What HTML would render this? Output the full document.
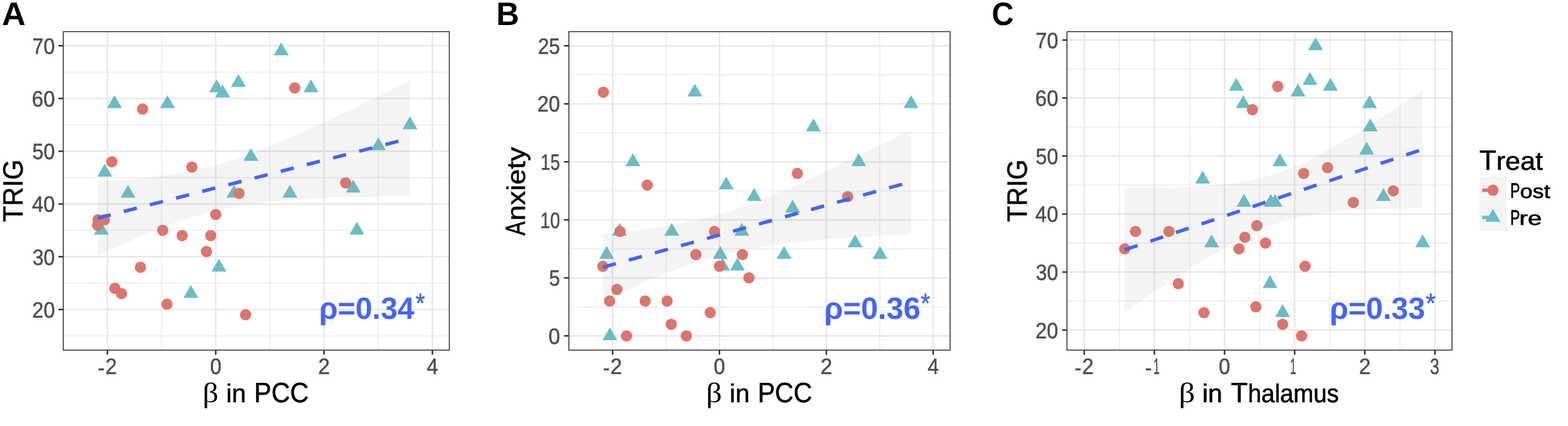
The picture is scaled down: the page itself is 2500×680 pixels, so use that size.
<!DOCTYPE html>
<html lang="en"><head><meta charset="utf-8"><title>Figure</title>
<style>html,body{margin:0;padding:0;background:#fff;overflow:hidden}svg{display:block}text{white-space:pre;text-rendering:geometricPrecision}</style></head><body>
<svg width="2500" height="680" viewBox="0 0 2500 680">
<rect width="2500" height="680" fill="#ffffff"/>
<g id="panelA">
<clipPath id="clipA"><rect x="100.85" y="50.5" width="615.55" height="508.30"/></clipPath>
<g clip-path="url(#clipA)">
<line x1="100.85" x2="716.4" y1="536.10" y2="536.10" stroke="#e9e9e9" stroke-width="1.3"/>
<line x1="100.85" x2="716.4" y1="451.90" y2="451.90" stroke="#e9e9e9" stroke-width="1.3"/>
<line x1="100.85" x2="716.4" y1="367.70" y2="367.70" stroke="#e9e9e9" stroke-width="1.3"/>
<line x1="100.85" x2="716.4" y1="283.50" y2="283.50" stroke="#e9e9e9" stroke-width="1.3"/>
<line x1="100.85" x2="716.4" y1="199.30" y2="199.30" stroke="#e9e9e9" stroke-width="1.3"/>
<line x1="100.85" x2="716.4" y1="115.10" y2="115.10" stroke="#e9e9e9" stroke-width="1.3"/>
<line y1="50.5" y2="558.8" x1="257.65" x2="257.65" stroke="#e9e9e9" stroke-width="1.3"/>
<line y1="50.5" y2="558.8" x1="430.35" x2="430.35" stroke="#e9e9e9" stroke-width="1.3"/>
<line y1="50.5" y2="558.8" x1="603.05" x2="603.05" stroke="#e9e9e9" stroke-width="1.3"/>
<line x1="100.85" x2="716.4" y1="494.00" y2="494.00" stroke="#e9e9e9" stroke-width="2.6"/>
<line x1="100.85" x2="716.4" y1="409.80" y2="409.80" stroke="#e9e9e9" stroke-width="2.6"/>
<line x1="100.85" x2="716.4" y1="325.60" y2="325.60" stroke="#e9e9e9" stroke-width="2.6"/>
<line x1="100.85" x2="716.4" y1="241.40" y2="241.40" stroke="#e9e9e9" stroke-width="2.6"/>
<line x1="100.85" x2="716.4" y1="157.20" y2="157.20" stroke="#e9e9e9" stroke-width="2.6"/>
<line x1="100.85" x2="716.4" y1="73.00" y2="73.00" stroke="#e9e9e9" stroke-width="2.6"/>
<line y1="50.5" y2="558.8" x1="171.30" x2="171.30" stroke="#e9e9e9" stroke-width="2.6"/>
<line y1="50.5" y2="558.8" x1="344.00" x2="344.00" stroke="#e9e9e9" stroke-width="2.6"/>
<line y1="50.5" y2="558.8" x1="516.70" x2="516.70" stroke="#e9e9e9" stroke-width="2.6"/>
<line y1="50.5" y2="558.8" x1="689.40" x2="689.40" stroke="#e9e9e9" stroke-width="2.6"/>
<polygon points="448.40,67.74 460.25,88.26 436.55,88.26" fill="#6bbdc1"/>
<polygon points="182.53,151.94 194.38,172.46 170.68,172.46" fill="#6bbdc1"/>
<polygon points="266.98,151.94 278.83,172.46 255.13,172.46" fill="#6bbdc1"/>
<polygon points="345.30,126.68 357.15,147.20 333.45,147.20" fill="#6bbdc1"/>
<polygon points="354.97,135.10 366.82,155.62 343.12,155.62" fill="#6bbdc1"/>
<polygon points="380.09,118.26 391.94,138.78 368.24,138.78" fill="#6bbdc1"/>
<polygon points="495.80,126.68 507.65,147.20 483.95,147.20" fill="#6bbdc1"/>
<polygon points="653.65,185.62 665.50,206.14 641.80,206.14" fill="#6bbdc1"/>
<polygon points="603.40,219.30 615.25,239.82 591.55,239.82" fill="#6bbdc1"/>
<polygon points="399.95,236.14 411.80,256.66 388.10,256.66" fill="#6bbdc1"/>
<polygon points="166.98,261.40 178.83,281.92 155.13,281.92" fill="#6bbdc1"/>
<polygon points="204.11,295.08 215.96,315.60 192.26,315.60" fill="#6bbdc1"/>
<polygon points="373.10,295.08 384.95,315.60 361.25,315.60" fill="#6bbdc1"/>
<polygon points="462.21,295.08 474.06,315.60 450.36,315.60" fill="#6bbdc1"/>
<polygon points="563.16,286.66 575.01,307.18 551.31,307.18" fill="#6bbdc1"/>
<polygon points="569.03,354.02 580.88,374.54 557.18,374.54" fill="#6bbdc1"/>
<polygon points="161.72,354.02 173.57,374.54 149.87,374.54" fill="#6bbdc1"/>
<polygon points="349.09,412.96 360.94,433.48 337.24,433.48" fill="#6bbdc1"/>
<polygon points="304.28,455.06 316.13,475.58 292.43,475.58" fill="#6bbdc1"/>
<circle cx="156.36" cy="350.86" r="9.0" fill="#dc756e"/>
<circle cx="166.46" cy="350.86" r="9.0" fill="#dc756e"/>
<circle cx="155.58" cy="359.28" r="9.0" fill="#dc756e"/>
<circle cx="178.29" cy="258.24" r="9.0" fill="#dc756e"/>
<circle cx="227.34" cy="174.04" r="9.0" fill="#dc756e"/>
<circle cx="469.90" cy="140.36" r="9.0" fill="#dc756e"/>
<circle cx="305.92" cy="266.66" r="9.0" fill="#dc756e"/>
<circle cx="381.13" cy="308.76" r="9.0" fill="#dc756e"/>
<circle cx="551.07" cy="291.92" r="9.0" fill="#dc756e"/>
<circle cx="344.00" cy="342.44" r="9.0" fill="#dc756e"/>
<circle cx="259.38" cy="367.70" r="9.0" fill="#dc756e"/>
<circle cx="290.46" cy="376.12" r="9.0" fill="#dc756e"/>
<circle cx="336.06" cy="376.12" r="9.0" fill="#dc756e"/>
<circle cx="329.15" cy="401.38" r="9.0" fill="#dc756e"/>
<circle cx="223.97" cy="426.64" r="9.0" fill="#dc756e"/>
<circle cx="183.22" cy="460.32" r="9.0" fill="#dc756e"/>
<circle cx="193.75" cy="468.74" r="9.0" fill="#dc756e"/>
<circle cx="266.11" cy="485.58" r="9.0" fill="#dc756e"/>
<circle cx="391.58" cy="502.42" r="9.0" fill="#dc756e"/>
<polygon points="155.6,288.8 161.9,288.5 168.2,288.2 174.5,287.8 180.8,287.5 187.1,287.1 193.4,286.7 199.7,286.2 206.0,285.8 212.3,285.3 218.6,284.7 224.9,284.2 231.2,283.6 237.5,283.0 243.8,282.3 250.2,281.6 256.5,280.8 262.8,280.0 269.1,279.1 275.4,278.2 281.7,277.2 288.0,276.1 294.3,275.0 300.6,273.8 306.9,272.6 313.2,271.2 319.5,269.8 325.8,268.3 332.1,266.8 338.4,265.2 344.7,263.5 351.0,261.7 357.3,259.8 363.6,257.9 369.9,255.9 376.2,253.8 382.6,251.7 388.9,249.5 395.2,247.2 401.5,244.9 407.8,242.5 414.1,240.1 420.4,237.6 426.7,235.1 433.0,232.5 439.3,229.9 445.6,227.2 451.9,224.6 458.2,221.8 464.5,219.1 470.8,216.3 477.1,213.5 483.4,210.7 489.7,207.8 496.0,205.0 502.3,202.1 508.6,199.1 514.9,196.2 521.3,193.3 527.6,190.3 533.9,187.3 540.2,184.3 546.5,181.3 552.8,178.3 559.1,175.2 565.4,172.2 571.7,169.2 578.0,166.1 584.3,163.0 590.6,159.9 596.9,156.8 603.2,153.8 609.5,150.6 615.8,147.5 622.1,144.4 628.4,141.3 634.7,138.2 641.0,135.0 647.3,131.9 653.7,128.8 653.7,312.6 647.3,312.7 641.0,312.8 634.7,312.9 628.4,313.0 622.1,313.1 615.8,313.2 609.5,313.3 603.2,313.4 596.9,313.6 590.6,313.7 584.3,313.9 578.0,314.0 571.7,314.2 565.4,314.4 559.1,314.5 552.8,314.7 546.5,315.0 540.2,315.2 533.9,315.4 527.6,315.7 521.3,315.9 514.9,316.2 508.6,316.5 502.3,316.8 496.0,317.2 489.7,317.5 483.4,317.9 477.1,318.3 470.8,318.7 464.5,319.2 458.2,319.6 451.9,320.2 445.6,320.7 439.3,321.3 433.0,321.9 426.7,322.6 420.4,323.3 414.1,324.0 407.8,324.8 401.5,325.7 395.2,326.6 388.9,327.6 382.6,328.6 376.2,329.7 369.9,330.8 363.6,332.1 357.3,333.4 351.0,334.7 344.7,336.2 338.4,337.7 332.1,339.3 325.8,341.0 319.5,342.8 313.2,344.6 306.9,346.5 300.6,348.5 294.3,350.5 288.0,352.6 281.7,354.8 275.4,357.0 269.1,359.3 262.8,361.7 256.5,364.1 250.2,366.6 243.8,369.1 237.5,371.6 231.2,374.2 224.9,376.9 218.6,379.5 212.3,382.2 206.0,385.0 199.7,387.7 193.4,390.5 187.1,393.3 180.8,396.2 174.5,399.1 168.2,401.9 161.9,404.9 155.6,407.8" fill="#999999" fill-opacity="0.105"/>
<line x1="155.58" y1="348.29" x2="653.65" y2="220.67" stroke="#4465f5" stroke-width="5.5" stroke-dasharray="21.53 21.53"/>
</g>
<rect x="100.85" y="50.5" width="615.55" height="508.30" fill="none" stroke="#262626" stroke-width="1.45"/>
<line x1="93.22" x2="100.42" y1="494.00" y2="494.00" stroke="#262626" stroke-width="2.3"/>
<line x1="93.22" x2="100.42" y1="409.80" y2="409.80" stroke="#262626" stroke-width="2.3"/>
<line x1="93.22" x2="100.42" y1="325.60" y2="325.60" stroke="#262626" stroke-width="2.3"/>
<line x1="93.22" x2="100.42" y1="241.40" y2="241.40" stroke="#262626" stroke-width="2.3"/>
<line x1="93.22" x2="100.42" y1="157.20" y2="157.20" stroke="#262626" stroke-width="2.3"/>
<line x1="93.22" x2="100.42" y1="73.00" y2="73.00" stroke="#262626" stroke-width="2.3"/>
<line y1="559.23" y2="566.12" x1="171.30" x2="171.30" stroke="#262626" stroke-width="2.3"/>
<line y1="559.23" y2="566.12" x1="344.00" x2="344.00" stroke="#262626" stroke-width="2.3"/>
<line y1="559.23" y2="566.12" x1="516.70" x2="516.70" stroke="#262626" stroke-width="2.3"/>
<line y1="559.23" y2="566.12" x1="689.40" x2="689.40" stroke="#262626" stroke-width="2.3"/>
<text fill="#4d4d4d" stroke="#4d4d4d" stroke-width="0.5" stroke-linejoin="round"><tspan x="51.32" y="506.70" font-size="35.49" font-family="'Liberation Sans', sans-serif" textLength="36.23" lengthAdjust="spacingAndGlyphs">20</tspan></text>
<text fill="#4d4d4d" stroke="#4d4d4d" stroke-width="0.5" stroke-linejoin="round"><tspan x="51.74" y="422.50" font-size="35.49" font-family="'Liberation Sans', sans-serif" textLength="35.79" lengthAdjust="spacingAndGlyphs">30</tspan></text>
<text fill="#4d4d4d" stroke="#4d4d4d" stroke-width="0.5" stroke-linejoin="round"><tspan x="50.91" y="338.30" font-size="35.49" font-family="'Liberation Sans', sans-serif" textLength="36.65" lengthAdjust="spacingAndGlyphs">40</tspan></text>
<text fill="#4d4d4d" stroke="#4d4d4d" stroke-width="0.5" stroke-linejoin="round"><tspan x="51.56" y="254.10" font-size="35.49" font-family="'Liberation Sans', sans-serif" textLength="35.98" lengthAdjust="spacingAndGlyphs">50</tspan></text>
<text fill="#4d4d4d" stroke="#4d4d4d" stroke-width="0.5" stroke-linejoin="round"><tspan x="50.80" y="169.90" font-size="35.49" font-family="'Liberation Sans', sans-serif" textLength="36.77" lengthAdjust="spacingAndGlyphs">60</tspan></text>
<text fill="#4d4d4d" stroke="#4d4d4d" stroke-width="0.5" stroke-linejoin="round"><tspan x="51.53" y="85.70" font-size="35.49" font-family="'Liberation Sans', sans-serif" textLength="36.01" lengthAdjust="spacingAndGlyphs">70</tspan></text>
<text fill="#4d4d4d" stroke="#4d4d4d" stroke-width="0.5" stroke-linejoin="round"><tspan x="156.20" y="598.70" font-size="35.49" font-family="'Liberation Sans', sans-serif" textLength="10.74" lengthAdjust="spacingAndGlyphs">-</tspan><tspan x="167.89" y="597.00" font-size="35.49" font-family="'Liberation Sans', sans-serif" textLength="18.46" lengthAdjust="spacingAndGlyphs">2</tspan></text>
<text fill="#4d4d4d" stroke="#4d4d4d" stroke-width="0.5" stroke-linejoin="round"><tspan x="334.89" y="597.00" font-size="35.49" font-family="'Liberation Sans', sans-serif" textLength="18.17" lengthAdjust="spacingAndGlyphs">0</tspan></text>
<text fill="#4d4d4d" stroke="#4d4d4d" stroke-width="0.5" stroke-linejoin="round"><tspan x="507.37" y="597.00" font-size="35.49" font-family="'Liberation Sans', sans-serif" textLength="18.70" lengthAdjust="spacingAndGlyphs">2</tspan></text>
<text fill="#4d4d4d" stroke="#4d4d4d" stroke-width="0.5" stroke-linejoin="round"><tspan x="680.42" y="597.00" font-size="35.49" font-family="'Liberation Sans', sans-serif" textLength="18.06" lengthAdjust="spacingAndGlyphs">4</tspan></text>
</g>
<g id="panelB">
<clipPath id="clipB"><rect x="907.0" y="50.5" width="607.85" height="508.30"/></clipPath>
<g clip-path="url(#clipB)">
<line x1="907.0" x2="1514.85" y1="489.85" y2="489.85" stroke="#e9e9e9" stroke-width="1.3"/>
<line x1="907.0" x2="1514.85" y1="397.25" y2="397.25" stroke="#e9e9e9" stroke-width="1.3"/>
<line x1="907.0" x2="1514.85" y1="304.65" y2="304.65" stroke="#e9e9e9" stroke-width="1.3"/>
<line x1="907.0" x2="1514.85" y1="212.05" y2="212.05" stroke="#e9e9e9" stroke-width="1.3"/>
<line x1="907.0" x2="1514.85" y1="119.45" y2="119.45" stroke="#e9e9e9" stroke-width="1.3"/>
<line y1="50.5" y2="558.8" x1="1061.90" x2="1061.90" stroke="#e9e9e9" stroke-width="1.3"/>
<line y1="50.5" y2="558.8" x1="1232.30" x2="1232.30" stroke="#e9e9e9" stroke-width="1.3"/>
<line y1="50.5" y2="558.8" x1="1402.70" x2="1402.70" stroke="#e9e9e9" stroke-width="1.3"/>
<line x1="907.0" x2="1514.85" y1="536.15" y2="536.15" stroke="#e9e9e9" stroke-width="2.6"/>
<line x1="907.0" x2="1514.85" y1="443.55" y2="443.55" stroke="#e9e9e9" stroke-width="2.6"/>
<line x1="907.0" x2="1514.85" y1="350.95" y2="350.95" stroke="#e9e9e9" stroke-width="2.6"/>
<line x1="907.0" x2="1514.85" y1="258.35" y2="258.35" stroke="#e9e9e9" stroke-width="2.6"/>
<line x1="907.0" x2="1514.85" y1="165.75" y2="165.75" stroke="#e9e9e9" stroke-width="2.6"/>
<line x1="907.0" x2="1514.85" y1="73.15" y2="73.15" stroke="#e9e9e9" stroke-width="2.6"/>
<line y1="50.5" y2="558.8" x1="976.70" x2="976.70" stroke="#e9e9e9" stroke-width="2.6"/>
<line y1="50.5" y2="558.8" x1="1147.10" x2="1147.10" stroke="#e9e9e9" stroke-width="2.6"/>
<line y1="50.5" y2="558.8" x1="1317.50" x2="1317.50" stroke="#e9e9e9" stroke-width="2.6"/>
<line y1="50.5" y2="558.8" x1="1487.90" x2="1487.90" stroke="#e9e9e9" stroke-width="2.6"/>
<polygon points="1250.11,392.83 1261.96,413.35 1238.26,413.35" fill="#6bbdc1"/>
<polygon points="987.78,355.79 999.63,376.31 975.93,376.31" fill="#6bbdc1"/>
<polygon points="1071.10,355.79 1082.95,376.31 1059.25,376.31" fill="#6bbdc1"/>
<polygon points="1148.38,392.83 1160.23,413.35 1136.53,413.35" fill="#6bbdc1"/>
<polygon points="1157.92,281.71 1169.77,302.23 1146.07,302.23" fill="#6bbdc1"/>
<polygon points="1182.71,355.79 1194.56,376.31 1170.86,376.31" fill="#6bbdc1"/>
<polygon points="1296.88,189.11 1308.73,209.63 1285.03,209.63" fill="#6bbdc1"/>
<polygon points="1452.63,152.07 1464.48,172.59 1440.78,172.59" fill="#6bbdc1"/>
<polygon points="1403.04,392.83 1414.89,413.35 1391.19,413.35" fill="#6bbdc1"/>
<polygon points="1202.31,300.23 1214.16,320.75 1190.46,320.75" fill="#6bbdc1"/>
<polygon points="972.44,522.47 984.29,542.99 960.59,542.99" fill="#6bbdc1"/>
<polygon points="1009.08,244.67 1020.93,265.19 997.23,265.19" fill="#6bbdc1"/>
<polygon points="1175.81,411.35 1187.66,431.87 1163.96,431.87" fill="#6bbdc1"/>
<polygon points="1263.74,318.75 1275.59,339.27 1251.89,339.27" fill="#6bbdc1"/>
<polygon points="1363.34,374.31 1375.19,394.83 1351.49,394.83" fill="#6bbdc1"/>
<polygon points="1369.13,244.67 1380.98,265.19 1357.28,265.19" fill="#6bbdc1"/>
<polygon points="967.24,392.83 979.09,413.35 955.39,413.35" fill="#6bbdc1"/>
<polygon points="1152.13,411.35 1163.98,431.87 1140.28,431.87" fill="#6bbdc1"/>
<polygon points="1107.91,133.55 1119.76,154.07 1096.06,154.07" fill="#6bbdc1"/>
<circle cx="961.96" cy="147.23" r="9.0" fill="#dc756e"/>
<circle cx="971.93" cy="480.59" r="9.0" fill="#dc756e"/>
<circle cx="961.19" cy="425.03" r="9.0" fill="#dc756e"/>
<circle cx="983.60" cy="462.07" r="9.0" fill="#dc756e"/>
<circle cx="1031.99" cy="295.39" r="9.0" fill="#dc756e"/>
<circle cx="1271.32" cy="276.87" r="9.0" fill="#dc756e"/>
<circle cx="1109.53" cy="406.51" r="9.0" fill="#dc756e"/>
<circle cx="1183.74" cy="406.51" r="9.0" fill="#dc756e"/>
<circle cx="1351.41" cy="313.91" r="9.0" fill="#dc756e"/>
<circle cx="1147.10" cy="425.03" r="9.0" fill="#dc756e"/>
<circle cx="1063.60" cy="480.59" r="9.0" fill="#dc756e"/>
<circle cx="1094.28" cy="536.15" r="9.0" fill="#dc756e"/>
<circle cx="1139.26" cy="369.47" r="9.0" fill="#dc756e"/>
<circle cx="1132.45" cy="499.11" r="9.0" fill="#dc756e"/>
<circle cx="1028.67" cy="480.59" r="9.0" fill="#dc756e"/>
<circle cx="988.46" cy="369.47" r="9.0" fill="#dc756e"/>
<circle cx="998.85" cy="536.15" r="9.0" fill="#dc756e"/>
<circle cx="1070.25" cy="517.63" r="9.0" fill="#dc756e"/>
<circle cx="1194.05" cy="443.55" r="9.0" fill="#dc756e"/>
<polygon points="961.2,372.8 967.4,372.3 973.6,371.7 979.9,371.2 986.1,370.6 992.3,370.0 998.5,369.3 1004.7,368.7 1011.0,368.0 1017.2,367.3 1023.4,366.5 1029.6,365.8 1035.8,364.9 1042.1,364.1 1048.3,363.2 1054.5,362.3 1060.7,361.3 1066.9,360.3 1073.2,359.3 1079.4,358.2 1085.6,357.0 1091.8,355.8 1098.0,354.5 1104.3,353.2 1110.5,351.8 1116.7,350.3 1122.9,348.8 1129.2,347.2 1135.4,345.5 1141.6,343.8 1147.8,341.9 1154.0,340.1 1160.3,338.1 1166.5,336.1 1172.7,334.0 1178.9,331.9 1185.1,329.7 1191.4,327.4 1197.6,325.1 1203.8,322.8 1210.0,320.3 1216.2,317.9 1222.5,315.4 1228.7,312.8 1234.9,310.2 1241.1,307.6 1247.3,304.9 1253.6,302.2 1259.8,299.5 1266.0,296.8 1272.2,294.0 1278.4,291.2 1284.7,288.4 1290.9,285.5 1297.1,282.6 1303.3,279.8 1309.6,276.9 1315.8,273.9 1322.0,271.0 1328.2,268.1 1334.4,265.1 1340.7,262.1 1346.9,259.1 1353.1,256.1 1359.3,253.1 1365.5,250.1 1371.8,247.1 1378.0,244.0 1384.2,241.0 1390.4,237.9 1396.6,234.9 1402.9,231.8 1409.1,228.7 1415.3,225.7 1421.5,222.6 1427.7,219.5 1434.0,216.4 1440.2,213.3 1446.4,210.2 1452.6,207.1 1452.6,373.3 1446.4,373.7 1440.2,374.0 1434.0,374.4 1427.7,374.7 1421.5,375.1 1415.3,375.5 1409.1,375.8 1402.9,376.2 1396.6,376.6 1390.4,377.0 1384.2,377.4 1378.0,377.8 1371.8,378.2 1365.5,378.7 1359.3,379.1 1353.1,379.5 1346.9,380.0 1340.7,380.5 1334.4,380.9 1328.2,381.4 1322.0,381.9 1315.8,382.5 1309.6,383.0 1303.3,383.5 1297.1,384.1 1290.9,384.7 1284.7,385.3 1278.4,385.9 1272.2,386.6 1266.0,387.3 1259.8,388.0 1253.6,388.7 1247.3,389.5 1241.1,390.3 1234.9,391.1 1228.7,391.9 1222.5,392.9 1216.2,393.8 1210.0,394.8 1203.8,395.8 1197.6,396.9 1191.4,398.1 1185.1,399.3 1178.9,400.5 1172.7,401.8 1166.5,403.2 1160.3,404.6 1154.0,406.2 1147.8,407.7 1141.6,409.4 1135.4,411.1 1129.2,412.9 1122.9,414.7 1116.7,416.6 1110.5,418.6 1104.3,420.7 1098.0,422.8 1091.8,425.0 1085.6,427.2 1079.4,429.5 1073.2,431.8 1066.9,434.2 1060.7,436.7 1054.5,439.2 1048.3,441.7 1042.1,444.3 1035.8,446.9 1029.6,449.6 1023.4,452.2 1017.2,454.9 1011.0,457.7 1004.7,460.5 998.5,463.3 992.3,466.1 986.1,468.9 979.9,471.8 973.6,474.6 967.4,477.5 961.2,480.5" fill="#999999" fill-opacity="0.105"/>
<line x1="961.19" y1="426.65" x2="1452.63" y2="290.20" stroke="#4465f5" stroke-width="5.5" stroke-dasharray="21.53 21.53"/>
</g>
<rect x="907.0" y="50.5" width="607.85" height="508.30" fill="none" stroke="#262626" stroke-width="1.45"/>
<line x1="899.38" x2="906.57" y1="536.15" y2="536.15" stroke="#262626" stroke-width="2.3"/>
<line x1="899.38" x2="906.57" y1="443.55" y2="443.55" stroke="#262626" stroke-width="2.3"/>
<line x1="899.38" x2="906.57" y1="350.95" y2="350.95" stroke="#262626" stroke-width="2.3"/>
<line x1="899.38" x2="906.57" y1="258.35" y2="258.35" stroke="#262626" stroke-width="2.3"/>
<line x1="899.38" x2="906.57" y1="165.75" y2="165.75" stroke="#262626" stroke-width="2.3"/>
<line x1="899.38" x2="906.57" y1="73.15" y2="73.15" stroke="#262626" stroke-width="2.3"/>
<line y1="559.23" y2="566.12" x1="976.70" x2="976.70" stroke="#262626" stroke-width="2.3"/>
<line y1="559.23" y2="566.12" x1="1147.10" x2="1147.10" stroke="#262626" stroke-width="2.3"/>
<line y1="559.23" y2="566.12" x1="1317.50" x2="1317.50" stroke="#262626" stroke-width="2.3"/>
<line y1="559.23" y2="566.12" x1="1487.90" x2="1487.90" stroke="#262626" stroke-width="2.3"/>
<text fill="#4d4d4d" stroke="#4d4d4d" stroke-width="0.5" stroke-linejoin="round"><tspan x="874.42" y="548.85" font-size="35.49" font-family="'Liberation Sans', sans-serif" textLength="18.52" lengthAdjust="spacingAndGlyphs">0</tspan></text>
<text fill="#4d4d4d" stroke="#4d4d4d" stroke-width="0.5" stroke-linejoin="round"><tspan x="875.60" y="456.25" font-size="35.49" font-family="'Liberation Sans', sans-serif" textLength="17.33" lengthAdjust="spacingAndGlyphs">5</tspan></text>
<text fill="#4d4d4d" stroke="#4d4d4d" stroke-width="0.5" stroke-linejoin="round"><tspan x="861.54" y="363.65" font-size="35.49" font-family="'Liberation Sans', sans-serif" textLength="31.22" lengthAdjust="spacingAndGlyphs">10</tspan></text>
<text fill="#4d4d4d" stroke="#4d4d4d" stroke-width="0.5" stroke-linejoin="round"><tspan x="862.08" y="271.05" font-size="35.49" font-family="'Liberation Sans', sans-serif" textLength="30.74" lengthAdjust="spacingAndGlyphs">15</tspan></text>
<text fill="#4d4d4d" stroke="#4d4d4d" stroke-width="0.5" stroke-linejoin="round"><tspan x="856.72" y="178.45" font-size="35.49" font-family="'Liberation Sans', sans-serif" textLength="36.23" lengthAdjust="spacingAndGlyphs">20</tspan></text>
<text fill="#4d4d4d" stroke="#4d4d4d" stroke-width="0.5" stroke-linejoin="round"><tspan x="857.77" y="85.85" font-size="35.49" font-family="'Liberation Sans', sans-serif" textLength="35.22" lengthAdjust="spacingAndGlyphs">25</tspan></text>
<text fill="#4d4d4d" stroke="#4d4d4d" stroke-width="0.5" stroke-linejoin="round"><tspan x="961.60" y="598.70" font-size="35.49" font-family="'Liberation Sans', sans-serif" textLength="10.74" lengthAdjust="spacingAndGlyphs">-</tspan><tspan x="973.29" y="597.00" font-size="35.49" font-family="'Liberation Sans', sans-serif" textLength="18.46" lengthAdjust="spacingAndGlyphs">2</tspan></text>
<text fill="#4d4d4d" stroke="#4d4d4d" stroke-width="0.5" stroke-linejoin="round"><tspan x="1137.99" y="597.00" font-size="35.49" font-family="'Liberation Sans', sans-serif" textLength="18.17" lengthAdjust="spacingAndGlyphs">0</tspan></text>
<text fill="#4d4d4d" stroke="#4d4d4d" stroke-width="0.5" stroke-linejoin="round"><tspan x="1308.17" y="597.00" font-size="35.49" font-family="'Liberation Sans', sans-serif" textLength="18.70" lengthAdjust="spacingAndGlyphs">2</tspan></text>
<text fill="#4d4d4d" stroke="#4d4d4d" stroke-width="0.5" stroke-linejoin="round"><tspan x="1478.92" y="597.00" font-size="35.49" font-family="'Liberation Sans', sans-serif" textLength="18.06" lengthAdjust="spacingAndGlyphs">4</tspan></text>
</g>
<g id="panelC">
<clipPath id="clipC"><rect x="1701.2" y="50.5" width="613.90" height="508.30"/></clipPath>
<g clip-path="url(#clipC)">
<line x1="1701.2" x2="2315.1" y1="480.60" y2="480.60" stroke="#e9e9e9" stroke-width="1.3"/>
<line x1="1701.2" x2="2315.1" y1="388.00" y2="388.00" stroke="#e9e9e9" stroke-width="1.3"/>
<line x1="1701.2" x2="2315.1" y1="295.40" y2="295.40" stroke="#e9e9e9" stroke-width="1.3"/>
<line x1="1701.2" x2="2315.1" y1="202.80" y2="202.80" stroke="#e9e9e9" stroke-width="1.3"/>
<line x1="1701.2" x2="2315.1" y1="110.20" y2="110.20" stroke="#e9e9e9" stroke-width="1.3"/>
<line y1="50.5" y2="558.8" x1="1784.62" x2="1784.62" stroke="#e9e9e9" stroke-width="1.3"/>
<line y1="50.5" y2="558.8" x1="1896.48" x2="1896.48" stroke="#e9e9e9" stroke-width="1.3"/>
<line y1="50.5" y2="558.8" x1="2008.33" x2="2008.33" stroke="#e9e9e9" stroke-width="1.3"/>
<line y1="50.5" y2="558.8" x1="2120.18" x2="2120.18" stroke="#e9e9e9" stroke-width="1.3"/>
<line y1="50.5" y2="558.8" x1="2232.03" x2="2232.03" stroke="#e9e9e9" stroke-width="1.3"/>
<line x1="1701.2" x2="2315.1" y1="526.90" y2="526.90" stroke="#e9e9e9" stroke-width="2.6"/>
<line x1="1701.2" x2="2315.1" y1="434.30" y2="434.30" stroke="#e9e9e9" stroke-width="2.6"/>
<line x1="1701.2" x2="2315.1" y1="341.70" y2="341.70" stroke="#e9e9e9" stroke-width="2.6"/>
<line x1="1701.2" x2="2315.1" y1="249.10" y2="249.10" stroke="#e9e9e9" stroke-width="2.6"/>
<line x1="1701.2" x2="2315.1" y1="156.50" y2="156.50" stroke="#e9e9e9" stroke-width="2.6"/>
<line x1="1701.2" x2="2315.1" y1="63.90" y2="63.90" stroke="#e9e9e9" stroke-width="2.6"/>
<line y1="50.5" y2="558.8" x1="1728.70" x2="1728.70" stroke="#e9e9e9" stroke-width="2.6"/>
<line y1="50.5" y2="558.8" x1="1840.55" x2="1840.55" stroke="#e9e9e9" stroke-width="2.6"/>
<line y1="50.5" y2="558.8" x1="1952.40" x2="1952.40" stroke="#e9e9e9" stroke-width="2.6"/>
<line y1="50.5" y2="558.8" x1="2064.25" x2="2064.25" stroke="#e9e9e9" stroke-width="2.6"/>
<line y1="50.5" y2="558.8" x1="2176.10" x2="2176.10" stroke="#e9e9e9" stroke-width="2.6"/>
<line y1="50.5" y2="558.8" x1="2287.95" x2="2287.95" stroke="#e9e9e9" stroke-width="2.6"/>
<polygon points="1971.19,124.30 1983.04,144.82 1959.34,144.82" fill="#6bbdc1"/>
<polygon points="1982.26,152.08 1994.11,172.60 1970.41,172.60" fill="#6bbdc1"/>
<polygon points="2097.47,59.48 2109.32,80.00 2085.62,80.00" fill="#6bbdc1"/>
<polygon points="2088.52,115.04 2100.37,135.56 2076.67,135.56" fill="#6bbdc1"/>
<polygon points="2069.51,133.56 2081.36,154.08 2057.66,154.08" fill="#6bbdc1"/>
<polygon points="2121.07,124.30 2132.92,144.82 2109.22,144.82" fill="#6bbdc1"/>
<polygon points="2183.59,152.08 2195.44,172.60 2171.74,172.60" fill="#6bbdc1"/>
<polygon points="2184.71,189.12 2196.56,209.64 2172.86,209.64" fill="#6bbdc1"/>
<polygon points="1917.50,272.46 1929.35,292.98 1905.65,292.98" fill="#6bbdc1"/>
<polygon points="1983.49,309.50 1995.34,330.02 1971.64,330.02" fill="#6bbdc1"/>
<polygon points="1931.82,374.32 1943.67,394.84 1919.97,394.84" fill="#6bbdc1"/>
<polygon points="2179.01,226.16 2190.86,246.68 2167.16,246.68" fill="#6bbdc1"/>
<polygon points="2040.65,244.68 2052.50,265.20 2028.80,265.20" fill="#6bbdc1"/>
<polygon points="2205.85,300.24 2217.70,320.76 2194.00,320.76" fill="#6bbdc1"/>
<polygon points="2026.11,309.50 2037.96,330.02 2014.26,330.02" fill="#6bbdc1"/>
<polygon points="2033.04,309.50 2044.89,330.02 2021.19,330.02" fill="#6bbdc1"/>
<polygon points="2268.26,374.32 2280.11,394.84 2256.41,394.84" fill="#6bbdc1"/>
<polygon points="2024.88,439.14 2036.73,459.66 2013.03,459.66" fill="#6bbdc1"/>
<polygon points="2045.01,485.44 2056.86,505.96 2033.16,505.96" fill="#6bbdc1"/>
<circle cx="1996.80" cy="175.02" r="9.0" fill="#dc756e"/>
<circle cx="2037.18" cy="137.98" r="9.0" fill="#dc756e"/>
<circle cx="1810.35" cy="369.48" r="9.0" fill="#dc756e"/>
<circle cx="1863.81" cy="369.48" r="9.0" fill="#dc756e"/>
<circle cx="2003.85" cy="360.22" r="9.0" fill="#dc756e"/>
<circle cx="1984.84" cy="378.74" r="9.0" fill="#dc756e"/>
<circle cx="2078.57" cy="276.88" r="9.0" fill="#dc756e"/>
<circle cx="2116.60" cy="267.62" r="9.0" fill="#dc756e"/>
<circle cx="2221.40" cy="304.66" r="9.0" fill="#dc756e"/>
<circle cx="2157.76" cy="323.18" r="9.0" fill="#dc756e"/>
<circle cx="2017.72" cy="388.00" r="9.0" fill="#dc756e"/>
<circle cx="1793.24" cy="397.26" r="9.0" fill="#dc756e"/>
<circle cx="1975.55" cy="397.26" r="9.0" fill="#dc756e"/>
<circle cx="1878.58" cy="452.82" r="9.0" fill="#dc756e"/>
<circle cx="1919.52" cy="499.12" r="9.0" fill="#dc756e"/>
<circle cx="2002.40" cy="489.86" r="9.0" fill="#dc756e"/>
<circle cx="2080.80" cy="425.04" r="9.0" fill="#dc756e"/>
<circle cx="2045.01" cy="517.64" r="9.0" fill="#dc756e"/>
<circle cx="2075.21" cy="536.16" r="9.0" fill="#dc756e"/>
<polygon points="1793.2,300.0 1799.3,300.0 1805.3,300.0 1811.3,300.0 1817.3,299.9 1823.3,299.9 1829.3,299.8 1835.3,299.8 1841.3,299.7 1847.4,299.6 1853.4,299.5 1859.4,299.4 1865.4,299.2 1871.4,299.1 1877.4,298.9 1883.4,298.7 1889.4,298.5 1895.5,298.2 1901.5,297.9 1907.5,297.6 1913.5,297.3 1919.5,296.9 1925.5,296.5 1931.5,296.0 1937.5,295.5 1943.6,295.0 1949.6,294.4 1955.6,293.7 1961.6,293.0 1967.6,292.2 1973.6,291.3 1979.6,290.4 1985.7,289.4 1991.7,288.2 1997.7,287.0 2003.7,285.7 2009.7,284.3 2015.7,282.7 2021.7,281.1 2027.7,279.3 2033.8,277.4 2039.8,275.4 2045.8,273.2 2051.8,271.0 2057.8,268.6 2063.8,266.1 2069.8,263.4 2075.8,260.7 2081.9,257.9 2087.9,255.0 2093.9,251.9 2099.9,248.8 2105.9,245.7 2111.9,242.4 2117.9,239.1 2124.0,235.7 2130.0,232.2 2136.0,228.7 2142.0,225.2 2148.0,221.6 2154.0,217.9 2160.0,214.2 2166.0,210.5 2172.1,206.8 2178.1,203.0 2184.1,199.2 2190.1,195.4 2196.1,191.5 2202.1,187.6 2208.1,183.7 2214.1,179.8 2220.2,175.9 2226.2,171.9 2232.2,167.9 2238.2,164.0 2244.2,160.0 2250.2,155.9 2256.2,151.9 2262.3,147.9 2268.3,143.9 2268.3,332.7 2262.3,332.8 2256.2,332.8 2250.2,332.8 2244.2,332.9 2238.2,332.9 2232.2,333.0 2226.2,333.1 2220.2,333.2 2214.1,333.4 2208.1,333.5 2202.1,333.7 2196.1,333.8 2190.1,334.0 2184.1,334.3 2178.1,334.5 2172.1,334.8 2166.0,335.1 2160.0,335.5 2154.0,335.9 2148.0,336.3 2142.0,336.7 2136.0,337.2 2130.0,337.8 2124.0,338.4 2117.9,339.1 2111.9,339.8 2105.9,340.6 2099.9,341.5 2093.9,342.5 2087.9,343.5 2081.9,344.6 2075.8,345.9 2069.8,347.2 2063.8,348.7 2057.8,350.2 2051.8,351.9 2045.8,353.7 2039.8,355.6 2033.8,357.6 2027.7,359.8 2021.7,362.1 2015.7,364.5 2009.7,367.0 2003.7,369.6 1997.7,372.4 1991.7,375.2 1985.7,378.2 1979.6,381.2 1973.6,384.3 1967.6,387.5 1961.6,390.8 1955.6,394.1 1949.6,397.5 1943.6,401.0 1937.5,404.5 1931.5,408.1 1925.5,411.7 1919.5,415.3 1913.5,419.0 1907.5,422.7 1901.5,426.5 1895.5,430.3 1889.4,434.1 1883.4,437.9 1877.4,441.8 1871.4,445.6 1865.4,449.5 1859.4,453.5 1853.4,457.4 1847.4,461.4 1841.3,465.3 1835.3,469.3 1829.3,473.3 1823.3,477.3 1817.3,481.4 1811.3,485.4 1805.3,489.4 1799.3,493.5 1793.2,497.5" fill="#999999" fill-opacity="0.105"/>
<line x1="1793.24" y1="398.77" x2="2268.26" y2="238.29" stroke="#4465f5" stroke-width="5.5" stroke-dasharray="21.53 21.53"/>
</g>
<rect x="1701.2" y="50.5" width="613.90" height="508.30" fill="none" stroke="#262626" stroke-width="1.45"/>
<line x1="1693.58" x2="1700.78" y1="526.90" y2="526.90" stroke="#262626" stroke-width="2.3"/>
<line x1="1693.58" x2="1700.78" y1="434.30" y2="434.30" stroke="#262626" stroke-width="2.3"/>
<line x1="1693.58" x2="1700.78" y1="341.70" y2="341.70" stroke="#262626" stroke-width="2.3"/>
<line x1="1693.58" x2="1700.78" y1="249.10" y2="249.10" stroke="#262626" stroke-width="2.3"/>
<line x1="1693.58" x2="1700.78" y1="156.50" y2="156.50" stroke="#262626" stroke-width="2.3"/>
<line x1="1693.58" x2="1700.78" y1="63.90" y2="63.90" stroke="#262626" stroke-width="2.3"/>
<line y1="559.23" y2="566.12" x1="1728.70" x2="1728.70" stroke="#262626" stroke-width="2.3"/>
<line y1="559.23" y2="566.12" x1="1840.55" x2="1840.55" stroke="#262626" stroke-width="2.3"/>
<line y1="559.23" y2="566.12" x1="1952.40" x2="1952.40" stroke="#262626" stroke-width="2.3"/>
<line y1="559.23" y2="566.12" x1="2064.25" x2="2064.25" stroke="#262626" stroke-width="2.3"/>
<line y1="559.23" y2="566.12" x1="2176.10" x2="2176.10" stroke="#262626" stroke-width="2.3"/>
<line y1="559.23" y2="566.12" x1="2287.95" x2="2287.95" stroke="#262626" stroke-width="2.3"/>
<text fill="#4d4d4d" stroke="#4d4d4d" stroke-width="0.5" stroke-linejoin="round"><tspan x="1651.02" y="539.60" font-size="35.49" font-family="'Liberation Sans', sans-serif" textLength="36.23" lengthAdjust="spacingAndGlyphs">20</tspan></text>
<text fill="#4d4d4d" stroke="#4d4d4d" stroke-width="0.5" stroke-linejoin="round"><tspan x="1651.44" y="447.00" font-size="35.49" font-family="'Liberation Sans', sans-serif" textLength="35.79" lengthAdjust="spacingAndGlyphs">30</tspan></text>
<text fill="#4d4d4d" stroke="#4d4d4d" stroke-width="0.5" stroke-linejoin="round"><tspan x="1650.61" y="354.40" font-size="35.49" font-family="'Liberation Sans', sans-serif" textLength="36.65" lengthAdjust="spacingAndGlyphs">40</tspan></text>
<text fill="#4d4d4d" stroke="#4d4d4d" stroke-width="0.5" stroke-linejoin="round"><tspan x="1651.26" y="261.80" font-size="35.49" font-family="'Liberation Sans', sans-serif" textLength="35.98" lengthAdjust="spacingAndGlyphs">50</tspan></text>
<text fill="#4d4d4d" stroke="#4d4d4d" stroke-width="0.5" stroke-linejoin="round"><tspan x="1650.50" y="169.20" font-size="35.49" font-family="'Liberation Sans', sans-serif" textLength="36.77" lengthAdjust="spacingAndGlyphs">60</tspan></text>
<text fill="#4d4d4d" stroke="#4d4d4d" stroke-width="0.5" stroke-linejoin="round"><tspan x="1651.23" y="76.60" font-size="35.49" font-family="'Liberation Sans', sans-serif" textLength="36.01" lengthAdjust="spacingAndGlyphs">70</tspan></text>
<text fill="#4d4d4d" stroke="#4d4d4d" stroke-width="0.5" stroke-linejoin="round"><tspan x="1713.60" y="598.70" font-size="35.49" font-family="'Liberation Sans', sans-serif" textLength="10.74" lengthAdjust="spacingAndGlyphs">-</tspan><tspan x="1725.29" y="597.00" font-size="35.49" font-family="'Liberation Sans', sans-serif" textLength="18.46" lengthAdjust="spacingAndGlyphs">2</tspan></text>
<text fill="#4d4d4d" stroke="#4d4d4d" stroke-width="0.5" stroke-linejoin="round"><tspan x="1825.65" y="598.70" font-size="35.49" font-family="'Liberation Sans', sans-serif" textLength="10.74" lengthAdjust="spacingAndGlyphs">-</tspan><tspan x="1838.96" y="597.00" font-size="35.49" font-family="'Liberation Sans', sans-serif" textLength="9.90" lengthAdjust="spacingAndGlyphs">1</tspan></text>
<text fill="#4d4d4d" stroke="#4d4d4d" stroke-width="0.5" stroke-linejoin="round"><tspan x="1943.29" y="597.00" font-size="35.49" font-family="'Liberation Sans', sans-serif" textLength="18.17" lengthAdjust="spacingAndGlyphs">0</tspan></text>
<text fill="#4d4d4d" stroke="#4d4d4d" stroke-width="0.5" stroke-linejoin="round"><tspan x="2056.76" y="597.00" font-size="35.49" font-family="'Liberation Sans', sans-serif" textLength="9.90" lengthAdjust="spacingAndGlyphs">1</tspan></text>
<text fill="#4d4d4d" stroke="#4d4d4d" stroke-width="0.5" stroke-linejoin="round"><tspan x="2166.77" y="597.00" font-size="35.49" font-family="'Liberation Sans', sans-serif" textLength="18.70" lengthAdjust="spacingAndGlyphs">2</tspan></text>
<text fill="#4d4d4d" stroke="#4d4d4d" stroke-width="0.5" stroke-linejoin="round"><tspan x="2279.90" y="597.00" font-size="35.49" font-family="'Liberation Sans', sans-serif" textLength="14.87" lengthAdjust="spacingAndGlyphs">3</tspan></text>
</g>
<text fill="#000"><tspan x="3.09" y="40.40" font-size="52.07" font-family="'Liberation Sans', sans-serif" font-weight="bold" textLength="37.94" lengthAdjust="spacingAndGlyphs">A</tspan></text>
<text fill="#000"><tspan x="791.18" y="40.40" font-size="52.07" font-family="'Liberation Sans', sans-serif" font-weight="bold" textLength="36.58" lengthAdjust="spacingAndGlyphs">B</tspan></text>
<text fill="#000"><tspan x="1581.15" y="40.40" font-size="52.07" font-family="'Liberation Sans', sans-serif" font-weight="bold" textLength="35.17" lengthAdjust="spacingAndGlyphs">C</tspan></text>
<text fill="#000" stroke="#000" stroke-width="0.6" stroke-linejoin="round"><tspan x="322.95" y="641.86" font-size="44.90" font-family="'Liberation Serif', serif" textLength="25.41" lengthAdjust="spacingAndGlyphs" stroke="none">β</tspan> <tspan x="360.43" y="641.60" font-size="40.95" font-family="'Liberation Sans', sans-serif" textLength="31.98" lengthAdjust="spacingAndGlyphs">in</tspan> <tspan x="405.31" y="641.60" font-size="44.51" font-family="'Liberation Sans', sans-serif" textLength="86.79" lengthAdjust="spacingAndGlyphs">PCC</tspan></text>
<text fill="#000" stroke="#000" stroke-width="0.6" stroke-linejoin="round"><tspan x="1125.85" y="641.86" font-size="44.90" font-family="'Liberation Serif', serif" textLength="25.41" lengthAdjust="spacingAndGlyphs" stroke="none">β</tspan> <tspan x="1163.33" y="641.60" font-size="40.95" font-family="'Liberation Sans', sans-serif" textLength="31.98" lengthAdjust="spacingAndGlyphs">in</tspan> <tspan x="1208.21" y="641.60" font-size="44.51" font-family="'Liberation Sans', sans-serif" textLength="86.79" lengthAdjust="spacingAndGlyphs">PCC</tspan></text>
<text fill="#000" stroke="#000" stroke-width="0.6" stroke-linejoin="round"><tspan x="1879.59" y="641.86" font-size="44.90" font-family="'Liberation Serif', serif" textLength="25.91" lengthAdjust="spacingAndGlyphs" stroke="none">β</tspan> <tspan x="1916.93" y="641.60" font-size="40.95" font-family="'Liberation Sans', sans-serif" textLength="31.98" lengthAdjust="spacingAndGlyphs">in</tspan> <tspan x="1962.41" y="641.60" font-size="44.51" font-family="'Liberation Sans', sans-serif" textLength="26.92" lengthAdjust="spacingAndGlyphs">T</tspan><tspan x="1989.82" y="641.60" font-size="40.95" font-family="'Liberation Sans', sans-serif" textLength="144.82" lengthAdjust="spacingAndGlyphs">halamus</tspan></text>
<text fill="#000" stroke="#000" stroke-width="0.6" stroke-linejoin="round" transform="translate(36.2 0) rotate(-90)"><tspan x="-354.14" y="0.00" font-size="44.51" font-family="'Liberation Sans', sans-serif" textLength="99.62" lengthAdjust="spacingAndGlyphs">TRIG</tspan></text>
<text fill="#000" stroke="#000" stroke-width="0.6" stroke-linejoin="round" transform="translate(837.4 0) rotate(-90)"><tspan x="-375.78" y="0.00" font-size="44.51" font-family="'Liberation Sans', sans-serif" textLength="22.25" lengthAdjust="spacingAndGlyphs">A</tspan><tspan x="-352.34" y="0.00" font-size="40.95" font-family="'Liberation Sans', sans-serif" textLength="117.65" lengthAdjust="spacingAndGlyphs">nxiety</tspan></text>
<text fill="#000" stroke="#000" stroke-width="0.6" stroke-linejoin="round" transform="translate(1637.2 0) rotate(-90)"><tspan x="-354.14" y="0.00" font-size="44.51" font-family="'Liberation Sans', sans-serif" textLength="99.62" lengthAdjust="spacingAndGlyphs">TRIG</tspan></text>
<text fill="#4465f5"><tspan x="508.70" y="508.90" font-size="49.16" font-family="'Liberation Sans', sans-serif" font-weight="bold" textLength="152.01" lengthAdjust="spacingAndGlyphs">ρ=0.34</tspan><tspan x="662.52" y="498.55" font-size="44.00" font-family="'Liberation Sans', sans-serif" textLength="15.13" lengthAdjust="spacingAndGlyphs" stroke="#4465f5" stroke-width="0.5">*</tspan></text>
<text fill="#4465f5"><tspan x="1313.97" y="508.90" font-size="49.16" font-family="'Liberation Sans', sans-serif" font-weight="bold" textLength="153.61" lengthAdjust="spacingAndGlyphs">ρ=0.36</tspan><tspan x="1467.71" y="498.55" font-size="44.00" font-family="'Liberation Sans', sans-serif" textLength="15.35" lengthAdjust="spacingAndGlyphs" stroke="#4465f5" stroke-width="0.5">*</tspan></text>
<text fill="#4465f5"><tspan x="2119.90" y="508.90" font-size="49.16" font-family="'Liberation Sans', sans-serif" font-weight="bold" textLength="152.27" lengthAdjust="spacingAndGlyphs">ρ=0.33</tspan><tspan x="2272.97" y="498.55" font-size="44.00" font-family="'Liberation Sans', sans-serif" textLength="16.33" lengthAdjust="spacingAndGlyphs" stroke="#4465f5" stroke-width="0.5">*</tspan></text>
<text fill="#000" stroke="#000" stroke-width="0.6" stroke-linejoin="round"><tspan x="2358.71" y="271.20" font-size="44.51" font-family="'Liberation Sans', sans-serif" textLength="26.92" lengthAdjust="spacingAndGlyphs">T</tspan><tspan x="2385.70" y="271.20" font-size="40.95" font-family="'Liberation Sans', sans-serif" textLength="74.36" lengthAdjust="spacingAndGlyphs">reat</tspan></text>
<rect x="2359.2" y="281.8" width="43.2" height="86.9" fill="#f4f4f4"/>
<line x1="2363.2" x2="2374.5" y1="303.6" y2="303.6" stroke="#dc756e" stroke-width="5.5"/>
<circle cx="2380.3" cy="303.6" r="9.0" fill="#dc756e"/>
<line x1="2363.2" x2="2374.5" y1="347.2" y2="347.2" stroke="#6bbdc1" stroke-width="5.5"/>
<polygon points="2380.30,333.52 2392.15,354.04 2368.45,354.04" fill="#6bbdc1"/>
<text fill="#000" stroke="#000" stroke-width="0.7" stroke-linejoin="round"><tspan x="2407.94" y="315.50" font-size="33.89" font-family="'Liberation Sans', sans-serif" textLength="15.41" lengthAdjust="spacingAndGlyphs">P</tspan><tspan x="2423.42" y="315.50" font-size="31.18" font-family="'Liberation Sans', sans-serif" textLength="48.06" lengthAdjust="spacingAndGlyphs">ost</tspan></text>
<text fill="#000" stroke="#000" stroke-width="0.7" stroke-linejoin="round"><tspan x="2407.94" y="359.00" font-size="33.89" font-family="'Liberation Sans', sans-serif" textLength="15.41" lengthAdjust="spacingAndGlyphs">P</tspan><tspan x="2422.32" y="359.00" font-size="31.18" font-family="'Liberation Sans', sans-serif" textLength="36.02" lengthAdjust="spacingAndGlyphs">re</tspan></text>
</svg></body></html>
